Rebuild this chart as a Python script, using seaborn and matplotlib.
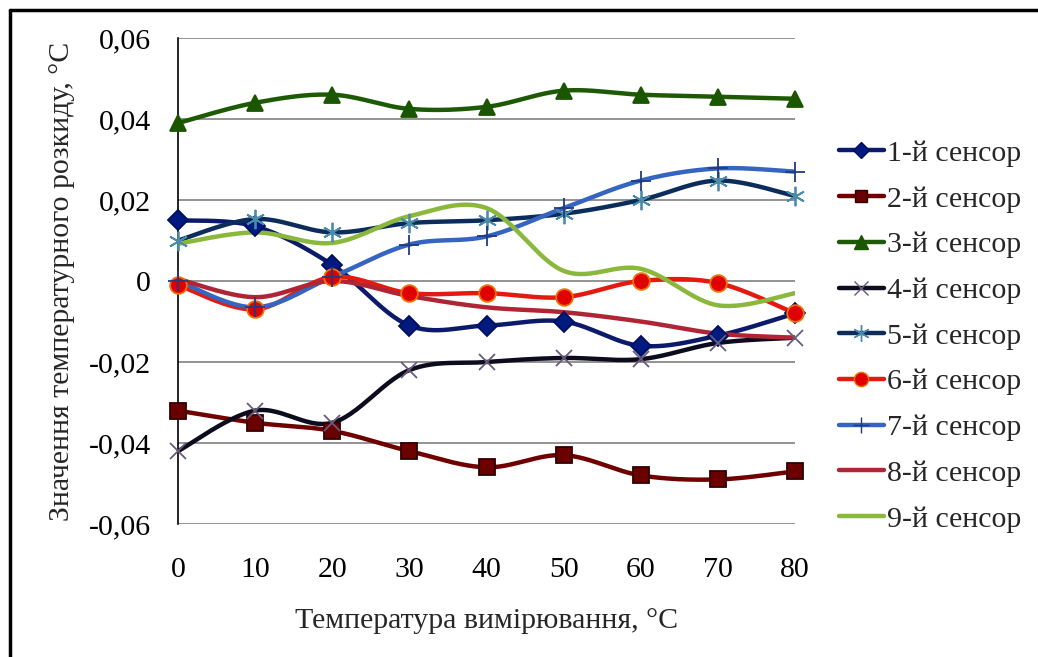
import numpy as np
import pandas as pd
import matplotlib
matplotlib.use("Agg")
import matplotlib.pyplot as plt
from matplotlib.lines import Line2D
import matplotlib.ticker as mticker
import seaborn as sns

sns.set_style("white")
plt.rcParams['font.family'] = ['Liberation Serif', 'DejaVu Serif']

temps = [0, 10, 20, 30, 40, 50, 60, 70, 80]
labels = ["1-й сенсор", "2-й сенсор", "3-й сенсор", "4-й сенсор", "5-й сенсор",
          "6-й сенсор", "7-й сенсор", "8-й сенсор", "9-й сенсор"]
s1 = [0.015, 0.0135, 0.004, -0.011, -0.011, -0.010, -0.016, -0.0135, -0.008]
s2 = [-0.032, -0.035, -0.037, -0.042, -0.046, -0.043, -0.048, -0.049, -0.047]
s3 = [0.039, 0.044, 0.046, 0.0425, 0.043, 0.047, 0.046, 0.0455, 0.045]
s4 = [-0.042, -0.032, -0.035, -0.022, -0.020, -0.019, -0.0193, -0.0153, -0.014]
s5 = [0.010, 0.0153, 0.012, 0.0143, 0.015, 0.0166, 0.020, 0.0248, 0.021]
s6 = [-0.001, -0.007, 0.001, -0.003, -0.003, -0.004, 0.000, -0.0005, -0.008]
s7 = [0.000, -0.0065, 0.001, 0.009, 0.011, 0.018, 0.0248, 0.0278, 0.027]
s8 = [0.0005, -0.004, 0.000, -0.0037, -0.0065, -0.0077, -0.010, -0.013, -0.014]
s9 = [0.0092, 0.012, 0.0094, 0.016, 0.018, 0.0025, 0.003, -0.006, -0.003]
series = [s1, s2, s3, s4, s5, s6, s7, s8, s9]

styles = [
    dict(lc="#0b1a6b", marker="D", mfc="#001a80", mec="#001060", ms=10),
    dict(lc="#700000", marker="s", mfc="#6a0000", mec="#300000", ms=11),
    dict(lc="#1e5a05", marker="^", mfc="#1a5500", mec="#1a5500", ms=12),
    dict(lc="#0c0c1e", marker="x", mfc="none", mec="#6a5a7a", ms=12),
    dict(lc="#0c2d5c", marker=(6, 2, 0), mfc="none", mec="#4a8aaa", ms=14),
    dict(lc="#e41a10", marker="o", mfc="#e00000", mec="#f07000", ms=12),
    dict(lc="#3565c0", marker="+", mfc="none", mec="#203a80", ms=14),
    dict(lc="#b02535", marker=None, mfc="none", mec="none", ms=0),
    dict(lc="#8ab83c", marker=None, mfc="none", mec="none", ms=0),
]


def smooth(x, y, n=30):
    # Excel-style smoothed line (Bezier with 1/6 control points)
    x = np.asarray(x, float)
    y = np.asarray(y, float)
    px = np.concatenate([[x[0]], x, [x[-1]]])
    py = np.concatenate([[y[0]], y, [y[-1]]])
    xs, ys = [], []
    t = np.linspace(0, 1, n)
    for i in range(1, len(px) - 2):
        p0 = np.array([px[i], py[i]])
        p3 = np.array([px[i + 1], py[i + 1]])
        c1 = p0 + (np.array([px[i + 1], py[i + 1]]) - np.array([px[i - 1], py[i - 1]])) / 6
        c2 = p3 - (np.array([px[i + 2], py[i + 2]]) - np.array([px[i], py[i]])) / 6
        b = ((1 - t) ** 3)[:, None] * p0 + (3 * (1 - t) ** 2 * t)[:, None] * c1 \
            + (3 * (1 - t) * t ** 2)[:, None] * c2 + (t ** 3)[:, None] * p3
        xs.append(b[:, 0])
        ys.append(b[:, 1])
    return np.concatenate(xs), np.concatenate(ys)


FS = 21.5
W, H = 1038, 657
fig = plt.figure(figsize=(W / 100, H / 100), dpi=100)
ax = fig.add_axes([178 / W, 1 - 524 / H, (795 - 178) / W, (524 - 38) / H])

for y, st in zip(series, styles):
    xs, ys = smooth(temps, y)
    sns.lineplot(x=xs, y=ys, ax=ax, color=st["lc"], lw=3.2, sort=False,
                 estimator=None, zorder=2, legend=False)
for y, st in zip(series, styles):
    if st["marker"] is not None:
        ax.plot(temps, y, linestyle="none", marker=st["marker"], ms=st["ms"],
                mfc=st["mfc"], mec=st["mec"], mew=1.3, zorder=3, clip_on=False)

ax.set_xlim(0, 80)
ax.set_ylim(-0.06, 0.06)
ax.set_xticks(temps)
ax.set_yticks(np.arange(-0.06, 0.0601, 0.02))
ax.yaxis.set_major_formatter(mticker.FuncFormatter(
    lambda v, p: "0" if abs(v) < 1e-9 else f"{v:.2f}".replace(".", ",")))
ax.grid(axis="y", color="#808080", lw=1.2)
ax.grid(axis="x", visible=False)
for s in ["top", "right", "bottom"]:
    ax.spines[s].set_visible(False)
ax.spines["left"].set_color("black")
ax.spines["left"].set_linewidth(1.2)
ax.tick_params(axis="both", length=0, labelsize=FS, colors="black")
ax.tick_params(axis="y", pad=19.5)
ax.tick_params(axis="x", pad=24)
ax.set_axisbelow(True)

ax.set_xlabel("Температура вимірювання, °C", fontsize=FS, labelpad=17.5)
ax.set_ylabel("Значення температурного розкиду, °C", fontsize=FS, labelpad=10)

handles = [Line2D([0], [0], color=st["lc"], lw=3.2, marker=st["marker"],
                  ms=st["ms"] * 0.85 if st["marker"] else 0, mfc=st["mfc"], mec=st["mec"])
           for st in styles]
fig.legend(handles, labels, loc="upper left", bbox_to_anchor=(839 / W, 1 - 140 / H),
           frameon=False, fontsize=FS, handlelength=1.5, handletextpad=0.1,
           labelspacing=0.63, borderaxespad=0, borderpad=0)

# outer frame (left and top edges)
fig.add_artist(Line2D([9.5 / W, 9.5 / W], [0, 1 - 9.5 / H], transform=fig.transFigure,
                      color="black", lw=2.5))
fig.add_artist(Line2D([9.5 / W, 1], [1 - 9.5 / H, 1 - 9.5 / H], transform=fig.transFigure,
                      color="black", lw=2.5))

fig.savefig("out.png", dpi=100)
